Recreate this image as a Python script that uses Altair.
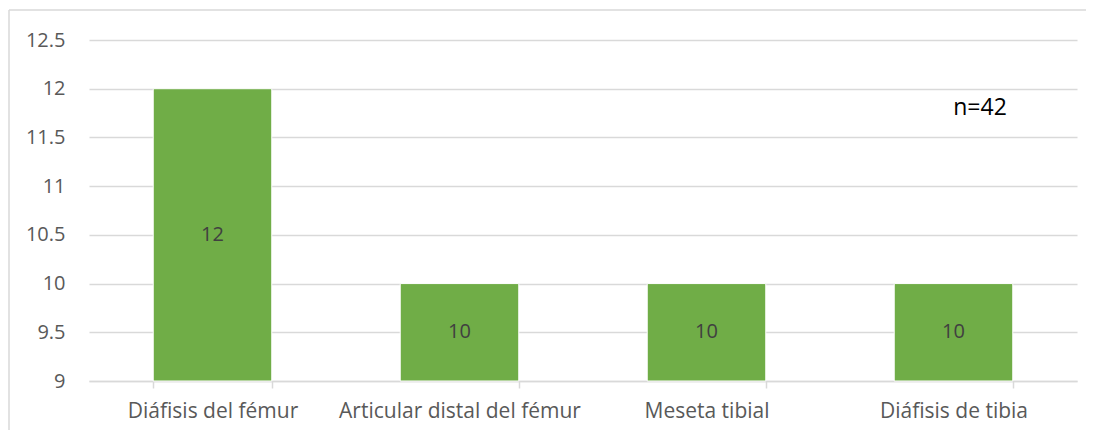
import altair as alt
import pandas as pd

categories = ["Diáfisis del fémur", "Articular distal del fémur", "Meseta tibial", "Diáfisis de tibia"]
values = [12, 10, 10, 10]
y_ticks = [9, 9.5, 10, 10.5, 11, 11.5, 12, 12.5]
note = "n=42"

df = pd.DataFrame({"cat": categories, "val": values})
df["mid"] = 9 + (df["val"] - 9) / 2

FONT = "Open Sans"
GREY = "#595959"

x = alt.X("cat:N", sort=categories, title=None,
          scale=alt.Scale(paddingInner=0.52, paddingOuter=0.26),
          axis=alt.Axis(labelAngle=0, labelFont=FONT, labelFontSize=21, labelColor=GREY,
                        labelPadding=12, labelLimit=0, domainColor="#D9D9D9", domainWidth=1.5,
                        tickColor="#D9D9D9", tickWidth=1.5,
                        tickBand="extent", tickSize=7, grid=False))
y = alt.Y("val:Q", title=None,
          scale=alt.Scale(domain=[9, 12.5], nice=False, zero=False),
          axis=alt.Axis(values=y_ticks, format="~g", labelFont=FONT, labelFontSize=20,
                        labelColor=GREY, domain=False, ticks=False, labelPadding=24,
                        gridColor="#D9D9D9", gridWidth=1.3))

bars = alt.Chart(df).mark_bar(color="#70AD47", stroke="white", strokeWidth=1).encode(
    x=x, y=y, y2=alt.datum(9))

labels = alt.Chart(df).mark_text(font=FONT, fontSize=20, color="#404040").encode(
    x=alt.X("cat:N", sort=categories), y=alt.Y("mid:Q"), text=alt.Text("val:Q"))

ann = alt.Chart(pd.DataFrame({"t": [note], "yv": [11.8]})).mark_text(
    font=FONT, fontSize=23, color="black", align="center").encode(
    x=alt.value(891), y=alt.Y("yv:Q"), text="t:N")

top_line = alt.Chart(pd.DataFrame({"a": [0]})).mark_rule(color="#D9D9D9", strokeWidth=1.5).encode(
    x=alt.value(-80), x2=alt.value(1010), y=alt.value(-30), y2=alt.value(-30))
left_line = alt.Chart(pd.DataFrame({"a": [0]})).mark_rule(color="#D9D9D9", strokeWidth=1.5).encode(
    x=alt.value(-80), x2=alt.value(-80), y=alt.value(-30), y2=alt.value(400))

chart = alt.layer(bars, labels, ann, top_line, left_line).properties(
    width=988, height=341,
    autosize=alt.AutoSizeParams(type="none"),
    padding={"left": 81, "top": 32, "right": 9, "bottom": 49},
).configure(background="white").configure_view(stroke=None)

chart.save("out.html", embed_options={"renderer": "svg", "actions": False})
